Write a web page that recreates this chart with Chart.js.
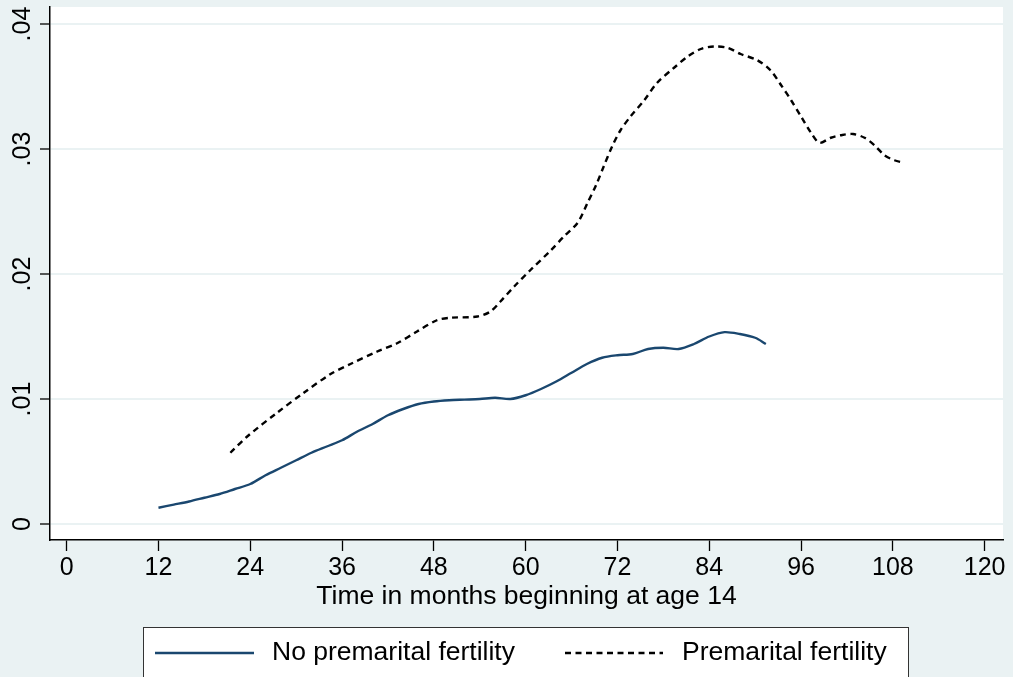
<!DOCTYPE html>
<html>
<head>
<meta charset="utf-8">
<script src="https://cdn.jsdelivr.net/npm/chart.js@4.4.1/dist/chart.umd.min.js"></script>
<style>
    html, body { margin: 0; padding: 0; background: #eaf2f3; }
    canvas { display: block; }
</style>
</head>
<body>
<canvas id="hazard-chart" width="1013" height="677"></canvas>
<script>
const seriesLabels = ['No premarital fertility', 'Premarital fertility'];

const noPremaritalMonths = [12, 14, 16, 18, 20, 22, 24, 26, 28, 30, 32, 34, 36, 38, 40, 42, 44, 46, 48, 50,
    52, 54, 56, 58, 60, 62, 64, 66, 68, 70, 72, 74, 76, 78, 80, 82, 84, 86, 88, 90, 91.4];
const noPremaritalValues = [.0013, .00155, .0018, .0021, .0024, .0028, .0032, .0039, .0045, .0051, .0057,
    .0062, .0067, .0074, .0080, .0087, .0092, .0096, .0098, .0099, .00995, .0100, .0101, .0100, .0103, .0108,
    .0114, .0121, .0128, .0133, .0135, .0136, .0140, .0141, .0140, .0144, .0150, .01535, .0152, .0149, .0144];

const premaritalMonths = [21.4, 23.6, 27.5, 31, 34.5, 37.1, 40.6, 43.2, 45.8, 48.4, 50.2, 53.7, 55.4, 56.7,
    58.5, 60.6, 63.3, 65, 66.8, 68.1, 69.2, 70.2, 71.3, 72.4, 73.7, 75.5, 77.2, 79.4, 81.2, 82.9, 84.6, 86.4,
    88.1, 90.3, 92, 93.4, 94.7, 96, 97.3, 98.4, 99.9, 101.2, 102.8, 104.3, 105.6, 106.9, 108.2, 109.5];
const premaritalValues = [.0057, .0070, .0089, .0105, .0120, .0128, .0138, .01446, .0154, .0163, .0165, .0166,
    .0170, .0178, .0190, .0203, .0219, .0230, .0241, .0257, .0271, .0286, .0302, .0315, .0326, .0339, .0353,
    .0365, .0374, .0380, .0382, .0381, .0376, .0371, .0363, .0351, .0339, .0326, .0313, .0305, .0309, .0311,
    .0312, .0309, .0303, .0295, .0291, .0289];

const xTicks = [0, 12, 24, 36, 48, 60, 72, 84, 96, 108, 120];
const yTicks = [0, .01, .02, .03, .04];
const xTitle = 'Time in months beginning at age 14';

const FONT = '"Liberation Sans", Arial, Helvetica, sans-serif';
const BG = '#eaf2f3';

function toPoints(xs, ys) {
    return xs.map((x, i) => ({ x: x, y: ys[i] }));
}

function formatY(v) {
    if (v === 0) return '0';
    return v.toFixed(2).replace(/^0/, '');
}

const backgroundPlugin = {
    id: 'stataBackground',
    beforeDraw(chart) {
        const { ctx, chartArea } = chart;
        ctx.save();
        ctx.fillStyle = BG;
        ctx.fillRect(0, 0, chart.width, chart.height);
        ctx.fillStyle = '#ffffff';
        ctx.fillRect(chartArea.left, chartArea.top,
            chartArea.right - chartArea.left, chartArea.bottom - chartArea.top);
        ctx.restore();
    }
};

// legend box under the axis title, like the Stata one
const legendPlugin = {
    id: 'boxLegend',
    afterDraw(chart) {
        const ctx = chart.ctx;
        const box = { left: 143.5, top: 627.5, right: 908.5, bottom: 690 };
        const items = [
            { x1: 155, x2: 254, textX: 272 },
            { x1: 565, x2: 663, textX: 682 }
        ];
        const midY = 653;

        ctx.save();
        ctx.fillStyle = '#ffffff';
        ctx.fillRect(box.left, box.top, box.right - box.left, box.bottom - box.top);
        ctx.strokeStyle = '#333333';
        ctx.lineWidth = 1;
        ctx.strokeRect(box.left, box.top, box.right - box.left, box.bottom - box.top);

        chart.data.datasets.forEach((ds, i) => {
            const item = items[i];
            ctx.beginPath();
            ctx.strokeStyle = ds.borderColor;
            ctx.lineWidth = ds.borderWidth;
            ctx.setLineDash(ds.borderDash || []);
            ctx.moveTo(item.x1, midY);
            ctx.lineTo(item.x2, midY);
            ctx.stroke();
            ctx.setLineDash([]);

            ctx.fillStyle = '#000000';
            ctx.font = '26.5px ' + FONT;
            ctx.textBaseline = 'middle';
            ctx.textAlign = 'left';
            ctx.fillText(ds.label, item.textX, midY);
        });
        ctx.restore();
    }
};

new Chart(document.getElementById('hazard-chart'), {
    type: 'line',
    data: {
        datasets: [{
            label: seriesLabels[0],
            data: toPoints(noPremaritalMonths, noPremaritalValues),
            borderColor: '#1a476f',
            borderWidth: 2.4,
            pointRadius: 0,
            tension: 0.3,
            fill: false
        }, {
            label: seriesLabels[1],
            data: toPoints(premaritalMonths, premaritalValues),
            borderColor: '#000000',
            borderWidth: 2.4,
            borderDash: [6, 4.5],
            pointRadius: 0,
            tension: 0.3,
            fill: false
        }]
    },
    options: {
        responsive: false,
        animation: false,
        devicePixelRatio: 1,
        layout: {
            padding: { top: 7, right: 10, left: 0, bottom: 0 }
        },
        plugins: {
            legend: { display: false },
            tooltip: { enabled: false }
        },
        scales: {
            x: {
                type: 'linear',
                min: -2.18,
                max: 122.4,
                afterBuildTicks: scale => {
                    scale.ticks = xTicks.map(v => ({ value: v }));
                },
                afterFit: scale => {
                    scale.height = 137;
                    scale.paddingLeft = 0;
                    scale.paddingRight = 0;
                },
                border: { display: true, color: '#000000', width: 1.5 },
                grid: {
                    drawOnChartArea: false,
                    drawTicks: true,
                    tickLength: 11,
                    tickColor: '#000000',
                    tickWidth: 1.3
                },
                ticks: {
                    color: '#000000',
                    padding: 2.5,
                    maxRotation: 0,
                    autoSkip: false,
                    font: { family: FONT, size: 25 },
                    callback: v => String(v)
                },
                title: {
                    display: true,
                    text: xTitle,
                    color: '#000000',
                    font: { family: FONT, size: 26.5 },
                    padding: { top: 0, bottom: 64 }
                }
            },
            y: {
                type: 'linear',
                min: -0.00128,
                max: 0.04136,
                afterBuildTicks: scale => {
                    scale.ticks = yTicks.map(v => ({ value: v }));
                },
                afterFit: scale => {
                    scale.width = 50;
                    scale.paddingTop = 0;
                    scale.paddingBottom = 0;
                },
                border: { display: true, color: '#000000', width: 1.5 },
                grid: {
                    color: BG,
                    lineWidth: 2,
                    drawTicks: true,
                    tickLength: 10,
                    tickColor: '#000000',
                    tickWidth: 1.3
                },
                ticks: {
                    color: '#000000',
                    padding: 0,
                    minRotation: 90,
                    maxRotation: 90,
                    crossAlign: 'center',
                    autoSkip: false,
                    font: { family: FONT, size: 25 },
                    callback: v => formatY(v)
                }
            }
        }
    },
    plugins: [backgroundPlugin, legendPlugin]
});
</script>
</body>
</html>
